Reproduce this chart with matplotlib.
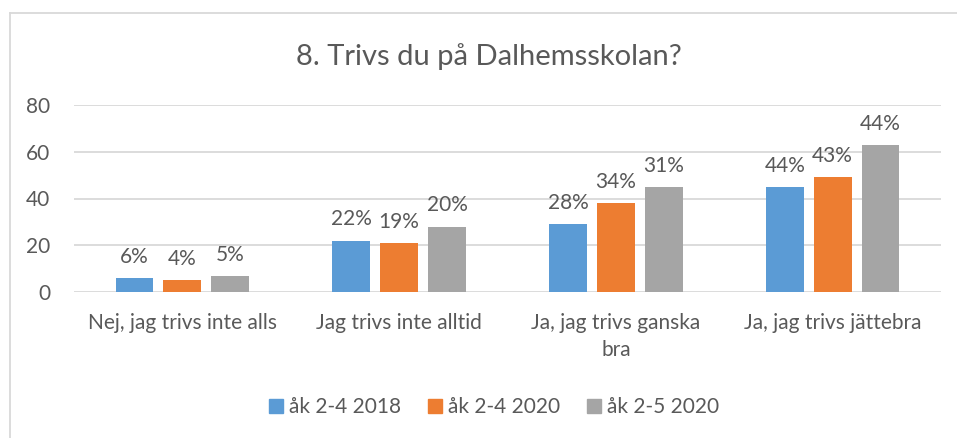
import numpy as np
import matplotlib.pyplot as plt
from matplotlib.lines import Line2D

plt.rcParams['font.family'] = ['Lato', 'DejaVu Sans']

categories = ["Nej, jag trivs inte alls", "Jag trivs inte alltid",
              "Ja, jag trivs ganska\nbra", "Ja, jag trivs jättebra"]
series_names = ["åk 2-4 2018", "åk 2-4 2020", "åk 2-5 2020"]
values_2018 = [6, 22, 29, 45]
values_2020 = [5, 21, 38, 49]
values_2020b = [7, 28, 45, 63]
labels_2018 = ["6%", "22%", "28%", "44%"]
labels_2020 = ["4%", "19%", "34%", "43%"]
labels_2020b = ["5%", "20%", "31%", "44%"]
yticks = [0, 20, 40, 60, 80]

colors = ["#5B9BD5", "#ED7D31", "#A5A5A5"]
text_color = "#595959"

fig = plt.figure(figsize=(9.57, 4.38), dpi=100)
ax = fig.add_axes([74 / 957, 1 - 292 / 438, (941 - 74) / 957, (292 - 105) / 438])

x = np.arange(len(categories))
width = 0.175
offsets = [-0.221, 0, 0.221]
all_vals = [values_2018, values_2020, values_2020b]
all_labels = [labels_2018, labels_2020, labels_2020b]

for vals, labs, off, col, name in zip(all_vals, all_labels, offsets, colors, series_names):
    bars = ax.bar(x + off, vals, width, color=col, label=name, zorder=3)
    ax.bar_label(bars, labels=labs, padding=8, fontsize=15, color=text_color)

ax.set_xlim(-0.5, len(categories) - 0.5)
ax.set_ylim(0, 80)
ax.set_yticks(yticks)
ax.yaxis.grid(True, color="#D9D9D9", linewidth=1.3, zorder=0)
ax.set_axisbelow(True)
for s in ax.spines.values():
    s.set_visible(False)
ax.tick_params(axis="both", length=0, labelsize=15, colors=text_color)
ax.tick_params(axis="y", pad=17)
ax.tick_params(axis="x", pad=15)
ax.set_xticks(x)
ax.set_xticklabels(categories, linespacing=1.45)

fig.text(489 / 957, 1 - 57 / 438, "8. Trivs du på Dalhemsskolan?", ha="center", va="center",
         fontsize=21, color=text_color)

# chart border (Excel frame)
fig.add_artist(Line2D([10 / 957, 10 / 957], [0, 1 - 13 / 438], color="#D9D9D9", lw=1.3,
                      transform=fig.transFigure))
fig.add_artist(Line2D([10 / 957, 1], [1 - 13 / 438, 1 - 13 / 438], color="#D9D9D9", lw=1.3,
                      transform=fig.transFigure))

handles = [plt.Rectangle((0, 0), 1, 1, color=c) for c in colors]
fig.legend(handles, series_names, loc="center", bbox_to_anchor=(494 / 957, 1 - 407 / 438), ncol=3,
           frameon=False, fontsize=15, labelcolor=text_color, handlelength=0.65,
           handleheight=0.65, handletextpad=0.3, columnspacing=1.3)

fig.savefig("out.png", dpi=100)
